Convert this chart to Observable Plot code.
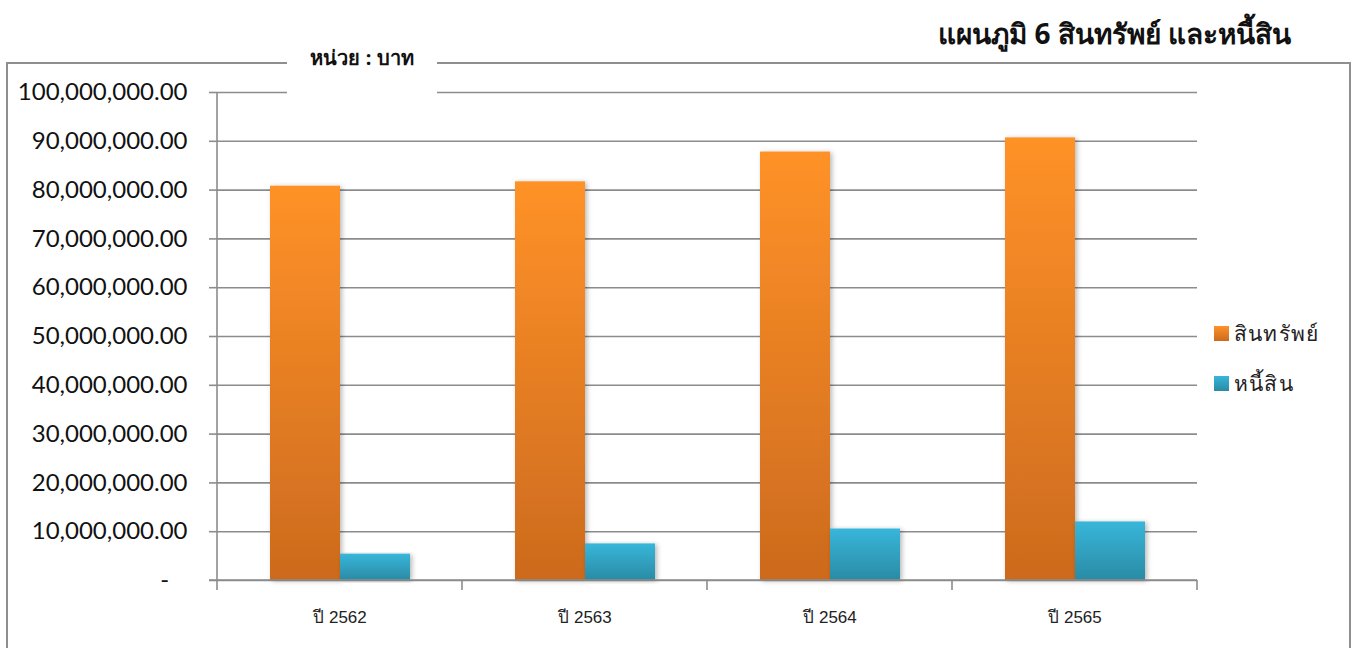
<!DOCTYPE html>
<html><head><meta charset="utf-8">
<script src="https://cdn.jsdelivr.net/npm/d3@7"></script>
<script src="https://cdn.jsdelivr.net/npm/@observablehq/plot@0.6"></script>
<style>
body{margin:0;background:#fff;}
#wrap{position:relative;width:1359px;height:648px;overflow:hidden;font-family:"Noto Sans",sans-serif;background:#fff;}
#chart{position:absolute;left:0;top:0;}
#frame{position:absolute;left:6px;top:62px;width:1345px;height:640px;border:2px solid #8f8f8f;box-sizing:border-box;}
#unit{position:absolute;left:287px;top:42px;width:150px;height:56px;background:#fff;text-align:center;font-weight:bold;font-size:20px;line-height:32px;color:#111;}
#title{position:absolute;right:68px;top:12px;font-weight:bold;font-size:28px;color:#111;white-space:nowrap;}
.leg{position:absolute;left:1214px;font-size:21px;letter-spacing:1.2px;color:#222;white-space:nowrap;display:flex;align-items:center;}
.sw{width:15px;height:15px;margin-right:5px;display:inline-block;}
</style></head>
<body>
<div id="wrap">
  <div id="chart"></div>
  <div id="frame"></div>
  <div id="unit">หน่วย : บาท</div>
  <div id="title">แผนภูมิ 6 สินทรัพย์ และหนี้สิน</div>
  <div class="leg" style="top:317px"><span class="sw" style="background:linear-gradient(#ff9228,#cc6a1e)"></span>สินทรัพย์</div>
  <div class="leg" style="top:367px"><span class="sw" style="background:linear-gradient(#38b6da,#2a8ba5)"></span>หนี้สิน</div>
</div>
<script>
const years = ["ปี 2562", "ปี 2563", "ปี 2564", "ปี 2565"];
const seriesNames = ["สินทรัพย์", "หนี้สิน"];
const assets = [80.8e6, 81.7e6, 87.8e6, 90.7e6];
const liabilities = [5.4e6, 7.5e6, 10.55e6, 12.0e6];
const yTicks = [0, 10e6, 20e6, 30e6, 40e6, 50e6, 60e6, 70e6, 80e6, 90e6, 100e6];

const assetRows = years.map((y, i) => ({year: y, series: seriesNames[0], value: assets[i]}));
const liabRows = years.map((y, i) => ({year: y, series: seriesNames[1], value: liabilities[i]}));

const fmt = d3.format(",.2f");
const plot = Plot.plot({
  width: 1359,
  height: 648,
  marginLeft: 215,
  marginRight: 161,
  marginTop: 92,
  marginBottom: 68,
  style: {fontFamily: "Lato, 'Noto Sans', sans-serif", background: "transparent"},
  fx: {domain: years, padding: 0, label: null},
  x: {domain: seriesNames, paddingInner: 0, paddingOuter: 0.745, axis: null},
  y: {domain: [0, 100e6], label: null},
  marks: [
    Plot.gridY(yTicks, {stroke: "#8c8c8c", strokeOpacity: 1, strokeWidth: 1.6}),
    Plot.axisY(yTicks, {tickSize: 8, tickPadding: 22, fontSize: 24, fill: "#111", stroke: "#8c8c8c", strokeWidth: 1.6,
      tickFormat: d => d === 0 ? "-\u00a0\u00a0\u00a0" : fmt(d), label: null}),
    Plot.axisFx({anchor: "bottom", tickSize: 0, tickPadding: 30, fontSize: 17, fill: "#222", label: null,
      fontFamily: "'Liberation Sans', 'Noto Sans', sans-serif"}),
    Plot.barY(assetRows, {fx: "year", x: "series", y: "value", fill: "url(#gO)", className: "bar"}),
    Plot.barY(liabRows, {fx: "year", x: "series", y: "value", fill: "url(#gB)", className: "bar"})
  ]
});
document.getElementById("chart").appendChild(plot);

const svg = d3.select(plot);
const defs = svg.insert("defs", ":first-child");
const g1 = defs.append("linearGradient").attr("id", "gO").attr("x1", 0).attr("y1", 0).attr("x2", 0).attr("y2", 1);
g1.append("stop").attr("offset", "0%").attr("stop-color", "#ff9228");
g1.append("stop").attr("offset", "100%").attr("stop-color", "#cc6a1e");
const g2 = defs.append("linearGradient").attr("id", "gB").attr("x1", 0).attr("y1", 0).attr("x2", 0).attr("y2", 1);
g2.append("stop").attr("offset", "0%").attr("stop-color", "#38b6da");
g2.append("stop").attr("offset", "100%").attr("stop-color", "#2a8ba5");
const f = defs.append("filter").attr("id", "sh").attr("x", "-20%").attr("y", "-5%").attr("width", "140%").attr("height", "115%");
f.append("feDropShadow").attr("dx", 2).attr("dy", 1).attr("stdDeviation", 2.5).attr("flood-color", "#000").attr("flood-opacity", 0.28);
svg.selectAll(".bar rect").attr("filter", "url(#sh)");

// axis lines from the scales
const fx = plot.scale("fx"), y = plot.scale("y");
const y0 = y.apply(0), yTop = y.apply(100e6);
const left = fx.apply(years[0]);
const axes = svg.append("g").attr("stroke", "#8c8c8c").attr("stroke-width", 1.6);
axes.append("line").attr("x1", left).attr("x2", left).attr("y1", yTop).attr("y2", y0 + 10);
axes.append("line").attr("x1", left - 8).attr("x2", fx.apply(years[years.length - 1]) + fx.bandwidth).attr("y1", y0).attr("y2", y0);
years.forEach(k => {
  const xr = fx.apply(k) + fx.bandwidth;
  axes.append("line").attr("x1", xr).attr("x2", xr).attr("y1", y0).attr("y2", y0 + 10);
});
</script>
</body></html>
